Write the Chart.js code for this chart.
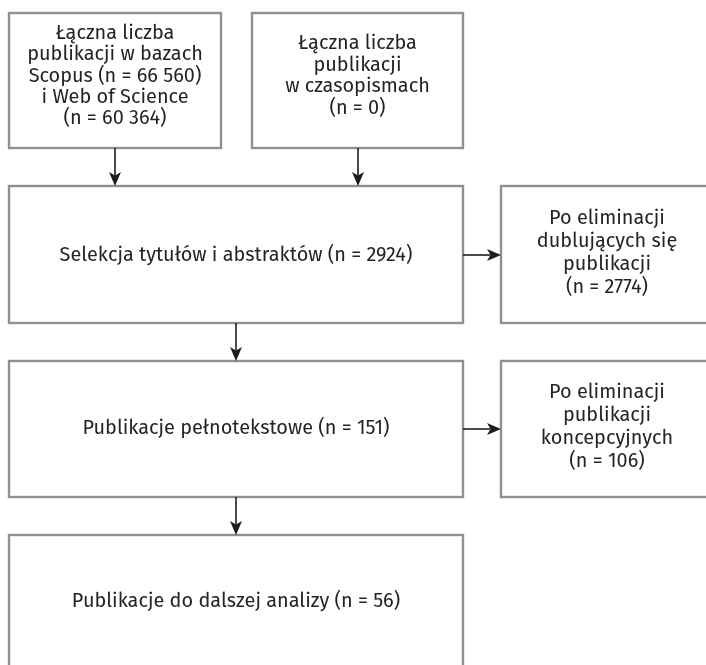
<!DOCTYPE html>
<html>
<head>
<meta charset="utf-8">
<script src="https://cdn.jsdelivr.net/npm/chart.js@4"></script>
<style>
html,body{margin:0;padding:0;background:#fff;}
#c{display:block;}
</style>
</head>
<body>
<canvas id="c" width="706" height="665"></canvas>
<script>
// ---- data ----
const scopusCount = '66 560';
const wosCount = '60 364';
const journalCount = 0;
const screenedCount = 2924;
const duplicatesRemovedCount = 2774;
const fullTextCount = 151;
const conceptualRemovedCount = 106;
const includedCount = 56;

const nodeTexts = [
  ['Łączna liczba', 'publikacji w bazach', 'Scopus (n = ' + scopusCount + ')', 'i Web of Science', '(n = ' + wosCount + ')'],
  ['Łączna liczba', 'publikacji', 'w czasopismach', '(n = ' + journalCount + ')'],
  ['Selekcja tytułów i abstraktów (n = ' + screenedCount + ')'],
  ['Po eliminacji', 'dublujących się', 'publikacji', '(n = ' + duplicatesRemovedCount + ')'],
  ['Publikacje pełnotekstowe (n = ' + fullTextCount + ')'],
  ['Po eliminacji', 'publikacji', 'koncepcyjnych', '(n = ' + conceptualRemovedCount + ')'],
  ['Publikacje do dalszej analizy (n = ' + includedCount + ')']
];
// flow links: [from, to]
const links = [[0, 2], [1, 2], [2, 3], [2, 4], [4, 5], [4, 6]];

// ---- layout (drawing units = canvas pixels via scales) ----
const boxes = [
  {x0: 9,   x1: 221, y0: 13,  y1: 148, ty: 76, lh: 21.4},
  {x0: 252, x1: 463, y0: 13,  y1: 148, ty: 76, lh: 21.8},
  {x0: 9,   x1: 463, y0: 186, y1: 323, ty: 255, lh: 22},
  {x0: 501, x1: 713, y0: 186, y1: 323, ty: 253, lh: 22.8},
  {x0: 9,   x1: 463, y0: 361, y1: 497, ty: 428, lh: 22},
  {x0: 501, x1: 713, y0: 361, y1: 497, ty: 427, lh: 22.8},
  {x0: 9,   x1: 463, y0: 535, y1: 671, ty: 601, lh: 22}
];
const arrowSpecs = [
  {x0: 115, y0: 148, x1: 115, y1: 186},
  {x0: 358, y0: 148, x1: 358, y1: 186},
  {x0: 463, y0: 255, x1: 501, y1: 255},
  {x0: 236, y0: 323, x1: 236, y1: 361},
  {x0: 463, y0: 429, x1: 501, y1: 429},
  {x0: 236, y0: 497, x1: 236, y1: 535}
];

const FONT_FAMILY = '"Fira Sans", Lato, "Open Sans", sans-serif';
const TEXT_COLOR = '#262324';
const BORDER_COLOR = '#8f9092';
const ARROW_COLOR = '#1f1c1d';

function fitFontSize(ctx) {
  ctx.font = '100px ' + FONT_FAMILY;
  const w = ctx.measureText(nodeTexts[2][0]).width;
  return 100 * 353 / w;
}

const flowPlugin = {
  id: 'flow',
  afterDatasetsDraw(chart) {
    const ctx = chart.ctx;
    const xs = chart.scales.x, ys = chart.scales.y;
    const px = v => xs.getPixelForValue(v);
    const py = v => ys.getPixelForValue(v);
    ctx.save();
    // boxes
    ctx.strokeStyle = BORDER_COLOR;
    ctx.lineWidth = 2.4;
    boxes.forEach(b => {
      ctx.fillStyle = '#ffffff';
      ctx.fillRect(px(b.x0), py(b.y0), px(b.x1) - px(b.x0), py(b.y1) - py(b.y0));
      ctx.strokeRect(px(b.x0), py(b.y0), px(b.x1) - px(b.x0), py(b.y1) - py(b.y0));
    });
    // texts
    const fs = fitFontSize(ctx);
    ctx.font = fs.toFixed(2) + 'px ' + FONT_FAMILY;
    ctx.fillStyle = TEXT_COLOR;
    ctx.textAlign = 'center';
    ctx.textBaseline = 'middle';
    nodeTexts.forEach((lines, i) => {
      const b = boxes[i];
      const cx = (px(b.x0) + px(b.x1)) / 2;
      const n = lines.length;
      lines.forEach((t, k) => {
        const y = py(b.ty) + (k - (n - 1) / 2) * b.lh;
        ctx.fillText(t, cx, y);
      });
    });
    // arrows
    ctx.strokeStyle = ARROW_COLOR;
    ctx.fillStyle = ARROW_COLOR;
    ctx.lineWidth = 1.6;
    links.forEach((lk, i) => {
      const a = arrowSpecs[i];
      const x0 = px(a.x0), y0 = py(a.y0), x1 = px(a.x1), y1 = py(a.y1);
      const ang = Math.atan2(y1 - y0, x1 - x0);
      const L = 14, W = 6, notch = 3.5;
      const bx = x1 - L * Math.cos(ang), by = y1 - L * Math.sin(ang);
      ctx.beginPath();
      ctx.moveTo(x0, y0);
      ctx.lineTo(bx + notch * Math.cos(ang), by + notch * Math.sin(ang));
      ctx.stroke();
      ctx.beginPath();
      ctx.moveTo(x1, y1);
      ctx.lineTo(bx - W * Math.sin(ang), by + W * Math.cos(ang));
      ctx.lineTo(bx + notch * Math.cos(ang), by + notch * Math.sin(ang));
      ctx.lineTo(bx + W * Math.sin(ang), by - W * Math.cos(ang));
      ctx.closePath();
      ctx.fill();
    });
    ctx.restore();
  }
};

new Chart(document.getElementById('c'), {
  type: 'scatter',
  data: {datasets: [{data: boxes.map(b => ({x: (b.x0 + b.x1) / 2, y: (b.y0 + b.y1) / 2})), pointRadius: 0, showLine: false}]},
  options: {
    responsive: false,
    animation: false,
    devicePixelRatio: 1,
    layout: {padding: 0},
    plugins: {legend: {display: false}, tooltip: {enabled: false}, title: {display: false}},
    events: [],
    scales: {
      x: {type: 'linear', min: 0, max: 706, display: false},
      y: {type: 'linear', min: 0, max: 665, reverse: true, display: false}
    }
  },
  plugins: [flowPlugin]
});
</script>
</body>
</html>
